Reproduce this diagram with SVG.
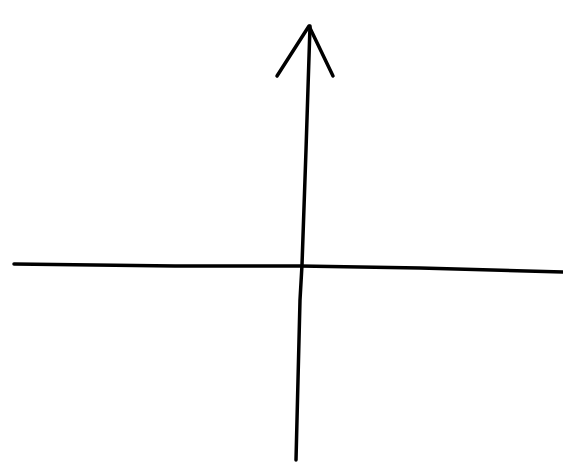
<svg xmlns="http://www.w3.org/2000/svg" width="563" height="464" viewBox="0 0 563 464">
<style>
.ax{stroke:#000;stroke-width:3.5;fill:none;stroke-linecap:round;stroke-linejoin:round}
</style>
<rect width="563" height="464" fill="#fff"/>
<g id="connectors">
<path id="x-axis" class="ax" d="M14,264 L175,266 L300,266 L420,268 L563,272"/>
<path id="y-axis" class="ax" d="M296,460 L300,300 L302,265 L306,150 L310,26"/>
<path id="y-arrowhead" class="ax" stroke-width="5" d="M277,76 L309,26 L333,76"/>
</g>
</svg>
